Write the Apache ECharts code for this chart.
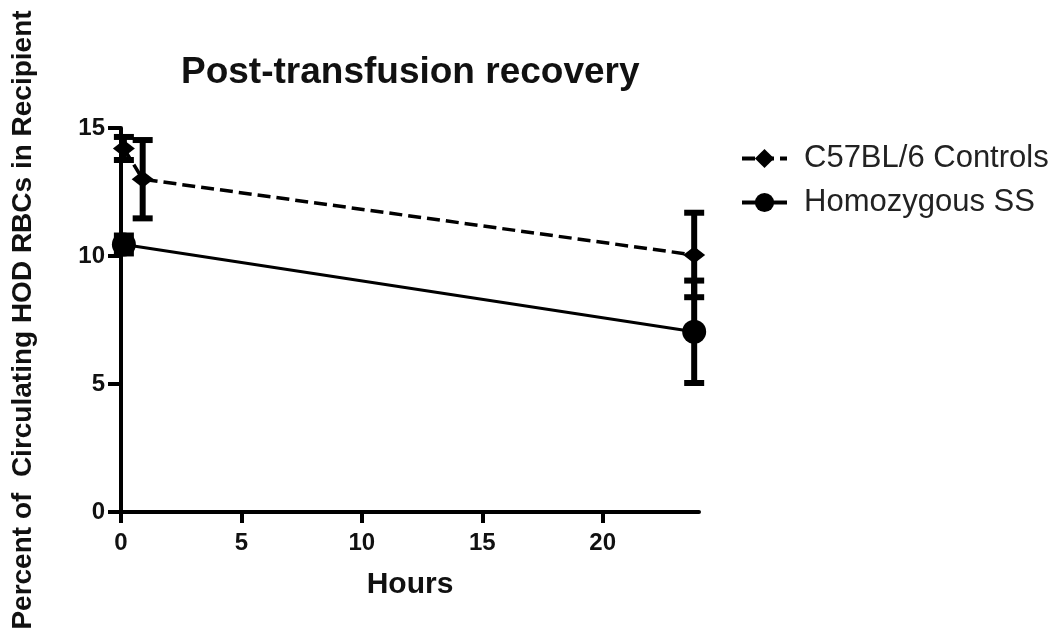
<!DOCTYPE html>
<html>
<head>
<meta charset="utf-8">
<script src="https://cdn.jsdelivr.net/npm/echarts@6/dist/echarts.min.js"></script>
<style>html,body{margin:0;padding:0;background:#fff}#c{width:1050px;height:636px}</style>
</head>
<body>
<div id="c"></div>
<script>
const seriesNames = ['C57BL/6 Controls', 'Homozygous SS'];
const controlsHours = [0.12, 0.9, 23.8];
const controlsValues = [14.2, 13.0, 10.04];
const controlsErrors = [0.45, 1.53, 1.65];
const ssHours = [0.12, 23.8];
const ssValues = [10.45, 7.04];
const ssErrors = [0.35, 2.0];
const xTicks = [0, 5, 10, 15, 20];
const yTicks = [0, 5, 10, 15];

const FONT = 'Liberation Sans, Arial, sans-serif';
const chart = echarts.init(document.getElementById('c'));

function pairs(xs, ys) { return xs.map((x, i) => [x, ys[i]]); }
function errData(xs, ys, es) { return xs.map((x, i) => [x, ys[i] - es[i], ys[i] + es[i]]); }

function errRender(params, api) {
  const x = api.value(0), lo = api.value(1), hi = api.value(2);
  const pLo = api.coord([x, lo]);
  const pHi = api.coord([x, hi]);
  const cw = 10;
  return {
    type: 'group',
    children: [
      { type: 'line', shape: { x1: pLo[0], y1: pLo[1], x2: pHi[0], y2: pHi[1] }, style: { stroke: '#000', lineWidth: 6 } },
      { type: 'line', shape: { x1: pLo[0] - cw, y1: pLo[1], x2: pLo[0] + cw, y2: pLo[1] }, style: { stroke: '#000', lineWidth: 6 } },
      { type: 'line', shape: { x1: pHi[0] - cw, y1: pHi[1], x2: pHi[0] + cw, y2: pHi[1] }, style: { stroke: '#000', lineWidth: 6 } }
    ]
  };
}

const option = {
  animation: false,
  backgroundColor: '#fff',
  title: {
    text: 'Post-transfusion recovery',
    left: 176, top: 49,
    textStyle: { fontFamily: FONT, fontWeight: 'bold', fontSize: 37, color: '#111' }
  },
  legend: {
    orient: 'vertical',
    left: 735, top: 138,
    itemWidth: 45, itemHeight: 24, itemGap: 13,
    lineStyle: { width: 4 },
    textStyle: { fontFamily: FONT, fontSize: 31, color: '#222', padding: [0, 0, 0, 12] },
    data: seriesNames
  },
  grid: { left: 121, right: 351, top: 128, bottom: 124, containLabel: false },
  xAxis: {
    type: 'value', min: 0, max: 24, interval: 5,
    name: 'Hours', nameLocation: 'middle', nameGap: 58,
    nameTextStyle: { fontFamily: FONT, fontWeight: 'bold', fontSize: 30, color: '#111' },
    axisLine: { show: true, onZero: false, lineStyle: { color: '#000', width: 4 } },
    axisTick: { show: true, length: 11, lineStyle: { color: '#000', width: 4 }, customValues: xTicks },
    axisLabel: { fontFamily: FONT, fontWeight: 'bold', fontSize: 24, color: '#111', margin: 19, customValues: xTicks },
    splitLine: { show: false }
  },
  yAxis: {
    type: 'value', min: 0, max: 15, interval: 5,
    name: 'Percent of  Circulating HOD RBCs in Recipient', nameLocation: 'middle', nameGap: 84,
    nameTextStyle: { fontFamily: FONT, fontWeight: 'bold', fontSize: 28, color: '#111' },
    axisLine: { show: true, onZero: false, lineStyle: { color: '#000', width: 4 } },
    axisTick: { show: true, length: 13, lineStyle: { color: '#000', width: 4 }, customValues: yTicks },
    axisLabel: { fontFamily: FONT, fontWeight: 'bold', fontSize: 24, color: '#111', margin: 16, customValues: yTicks },
    splitLine: { show: false }
  },
  series: [
    {
      name: seriesNames[0], type: 'line',
      data: pairs(controlsHours, controlsValues),
      symbol: 'diamond', symbolSize: [22, 17],
      itemStyle: { color: '#000' },
      lineStyle: { color: '#000', width: 3.5, type: [13, 6] },
      z: 3
    },
    {
      name: seriesNames[1], type: 'line',
      data: pairs(ssHours, ssValues),
      symbol: 'circle', symbolSize: 24,
      itemStyle: { color: '#000' },
      lineStyle: { color: '#000', width: 3 },
      z: 3
    },
    {
      type: 'custom', renderItem: errRender, data: errData(controlsHours, controlsValues, controlsErrors),
      encode: { x: 0, y: [1, 2] }, z: 4, silent: true
    },
    {
      type: 'custom', renderItem: errRender, data: errData(ssHours, ssValues, ssErrors),
      encode: { x: 0, y: [1, 2] }, z: 4, silent: true
    }
  ]
};
chart.setOption(option);
</script>
</body>
</html>
